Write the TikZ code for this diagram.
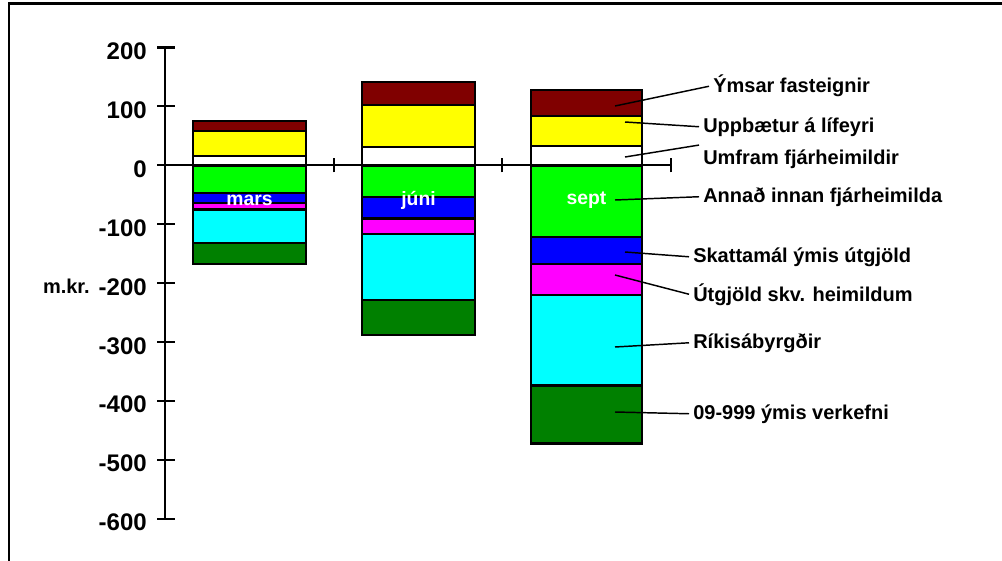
\documentclass[tikz,border=0pt]{standalone}
\usepackage{fontspec}
\setmainfont{Liberation Sans}
\usepackage{xcolor}
\definecolor{barmaroon}{RGB}{128, 0, 0}
\definecolor{baryellow}{RGB}{255, 255, 0}
\definecolor{bargreen}{RGB}{0, 255, 0}
\definecolor{barblue}{RGB}{0, 0, 255}
\definecolor{barmagenta}{RGB}{255, 0, 255}
\definecolor{barcyan}{RGB}{0, 255, 255}
\definecolor{bardkgreen}{RGB}{0, 128, 0}
\tikzset{
    segment/.style={draw=black, line width=1.8pt},
    ticklabel/.style={font=\fontsize{18}{18}\selectfont\bfseries, anchor=base east, inner sep=0pt},
    legendlabel/.style={font=\fontsize{15}{15}\selectfont\bfseries, anchor=base west, inner sep=3pt},
    monthlabel/.style={font=\fontsize{14.5}{14.5}\selectfont\bfseries, text=white, inner sep=0pt},
    leader/.style={line width=1.1pt}
}

\begin{document}
\begin{tikzpicture}[x=0.75pt, y=-0.75pt]
    \useasboundingbox (0,0) rectangle (1002,560);
    % Frame
    \draw[line width=1.6pt] (9,570) -- (9,3.5);
    \draw[line width=2.2pt] (8,3.5) -- (1010,3.5);

    \begin{scope}[shift={(0,165.3)}, y=0.44175pt]
        % Bar: mars
        \foreach \lo/\hi/\col in {58/75/barmaroon, 16/58/baryellow, 0/16/white, -47/0/bargreen,
                                  -64.5/-47/barblue, -75/-64.5/barmagenta, -132/-75/barcyan, -168/-132/bardkgreen} {
            \filldraw[segment, fill=\col] (193,\lo) rectangle (306,\hi);
        }
        % Bar: juni
        \foreach \lo/\hi/\col in {102/141/barmaroon, 31/102/baryellow, 0/31/white, -54/0/bargreen,
                                  -90/-54/barblue, -117/-90/barmagenta, -229/-117/barcyan, -288/-229/bardkgreen} {
            \filldraw[segment, fill=\col] (362,\lo) rectangle (475,\hi);
        }
        % Bar: sept
        \foreach \lo/\hi/\col in {84/128/barmaroon, 33/84/baryellow, 0/33/white, -122/0/bargreen,
                                  -168/-122/barblue, -220/-168/barmagenta, -374/-220/barcyan, -472/-374/bardkgreen} {
            \filldraw[segment, fill=\col] (531,\lo) rectangle (642,\hi);
        }

        % Value axis
        \draw[line width=1.6pt] (165,200) -- (165,-600);
        \foreach \v in {200,100,...,-600} {
            \draw[line width=1.6pt] (157,\v) -- (175,\v);
            \node[ticklabel, yshift=-9pt] (tick\v) at (147,\v) {\v};
        }

        % Month axis
        \draw[line width=1.6pt] (165,0) -- (671,0);
        \foreach \x in {334,502,671} {
            \draw[line width=1.6pt] (\x,-12) -- (\x,12);
        }

        % Month names
        \node[monthlabel] (mars) at (249.5,-59) {mars};
        \node[monthlabel] (juni) at (418.5,-59) {júni};
        \node[monthlabel] (sept) at (586.5,-59) {sept};
    \end{scope}

    \node[ticklabel, font=\fontsize{15}{15}\selectfont\bfseries] (unit) at (90,293) {m.kr.};

    % Legend labels
    \node[legendlabel] (ymsar) at (709,93) {Ýmsar fasteignir};
    \node[legendlabel] (uppbaetur) at (699,132) {Uppbætur á lífeyri};
    \node[legendlabel] (umfram) at (699,164) {Umfram fjárheimildir};
    \node[legendlabel] (annad) at (699,202) {Annað innan fjárheimilda};
    \node[legendlabel] (skattamal) at (689,262) {Skattamál ýmis útgjöld};
    \node[legendlabel] (utgjold) at (689,301) {Útgjöld skv. heimildum};
    \node[legendlabel] (rikis) at (689,348) {Ríkisábyrgðir};
    \node[legendlabel] (verkefni) at (689,419) {09-999 ýmis verkefni};

    % Leader points inside sept bar
    \coordinate (p1) at (615,106);
    \coordinate (p2) at (625,122);
    \coordinate (p3) at (625,157);
    \coordinate (p4) at (615,200);
    \coordinate (p5) at (625,252);
    \coordinate (p6) at (615,275);
    \coordinate (p7) at (615,347);
    \coordinate (p8) at (615,412);

    \draw[leader] (p1) -- (ymsar.west);
    \draw[leader] (p2) -- (uppbaetur.west);
    \draw[leader] (p3) -- (umfram.north west);
    \draw[leader] (p4) -- (annad.west);
    \draw[leader] (p5) -- (skattamal.west);
    \draw[leader] (p6) -- (utgjold.west);
    \draw[leader] (p7) -- (rikis.west);
    \draw[leader] (p8) -- (verkefni.west);
\end{tikzpicture}
\end{document}
